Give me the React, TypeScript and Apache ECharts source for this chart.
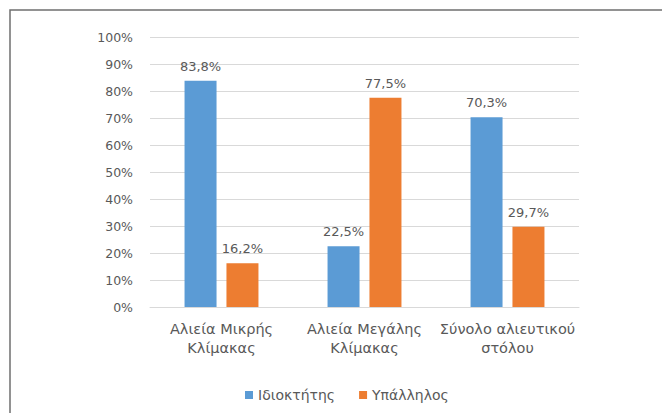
import React, { useEffect, useRef } from "react";
import * as echarts from "echarts";

const categories = ["Αλιεία Μικρής\nΚλίμακας", "Αλιεία Μεγάλης\nΚλίμακας", "Σύνολο αλιευτικού\nστόλου"];
const ownerValues = [83.8, 22.5, 70.3];
const employeeValues = [16.2, 77.5, 29.7];
const seriesNames = ["Ιδιοκτήτης", "Υπάλληλος"];

const FONT = "DejaVu Sans";
const TEXT = "#595959";

export default function App() {
  const ref = useRef<HTMLDivElement>(null);
  useEffect(() => {
    if (!ref.current) return;
    const chart = echarts.init(ref.current, null, { renderer: "svg" });
    const labelFmt = (p: any) => String(p.value).replace(".", ",") + "%";
    chart.setOption({
      animation: false,
      backgroundColor: "#ffffff",
      textStyle: { fontFamily: FONT },
      graphic: [
        {
          type: "rect",
          shape: { x: 10, y: 10, width: 700, height: 450 },
          style: { fill: "none", stroke: "#6f6f6f", lineWidth: 1.5 },
          silent: true,
        },
      ],
      grid: { left: 150, right: 83, top: 37, bottom: 106, containLabel: false },
      xAxis: {
        type: "category",
        data: categories,
        axisLine: { lineStyle: { color: "#d9d9d9" } },
        axisTick: { show: false },
        axisLabel: { color: TEXT, fontSize: 14.5, fontFamily: FONT, lineHeight: 19, margin: 12, interval: 0 },
      },
      yAxis: {
        type: "value",
        min: 0,
        max: 100,
        interval: 10,
        axisLine: { show: false },
        axisTick: { show: false },
        splitLine: { lineStyle: { color: "#d9d9d9" } },
        axisLabel: { color: TEXT, fontSize: 12.5, fontFamily: FONT, formatter: "{value}%", margin: 17 },
      },
      legend: {
        bottom: 6,
        left: 240,
        icon: "rect",
        itemWidth: 8,
        itemHeight: 8,
        itemGap: 24,
        textStyle: { color: TEXT, fontSize: 14, fontFamily: FONT },
        data: seriesNames,
      },
      series: [
        {
          name: seriesNames[0],
          type: "bar",
          data: ownerValues,
          barWidth: 32,
          barGap: "31%",
          itemStyle: { color: "#5B9BD5" },
          label: { show: true, position: "top", distance: 8, color: TEXT, fontSize: 13, fontFamily: FONT, formatter: labelFmt },
        },
        {
          name: seriesNames[1],
          type: "bar",
          data: employeeValues,
          barWidth: 32,
          itemStyle: { color: "#ED7D31" },
          label: { show: true, position: "top", distance: 8, color: TEXT, fontSize: 13, fontFamily: FONT, formatter: labelFmt },
        },
      ],
    });
    return () => chart.dispose();
  }, []);
  return (
    <div style={{ position: "fixed", left: 0, top: 0, width: 662, height: 413, background: "#fff" }}>
      <div ref={ref} style={{ width: 662, height: 413 }} />
    </div>
  );
}
